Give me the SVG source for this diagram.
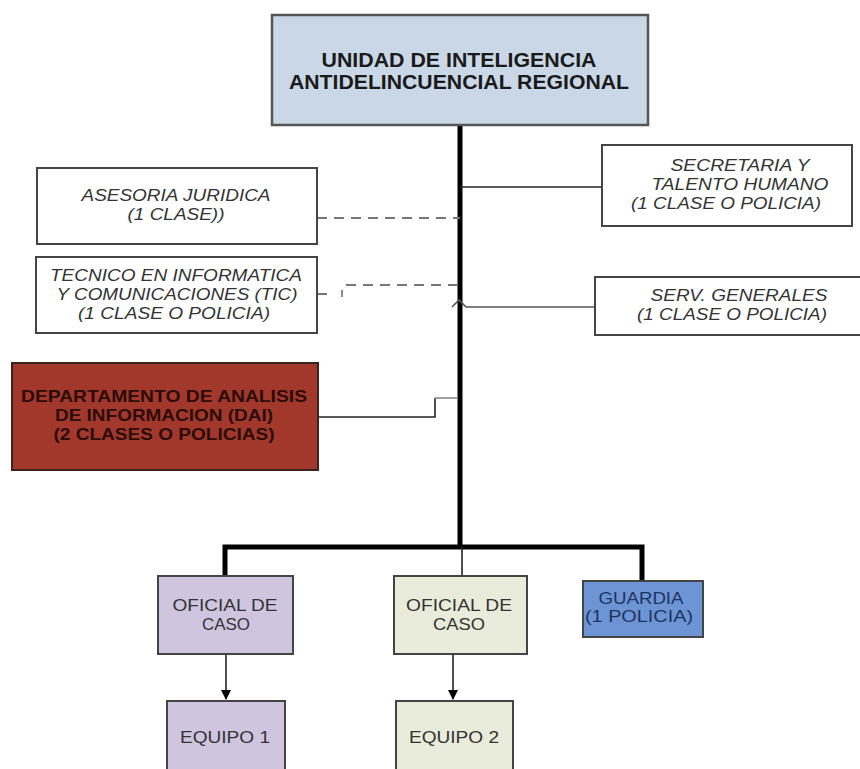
<svg xmlns="http://www.w3.org/2000/svg" width="860" height="769" viewBox="0 0 860 769">
  <defs>
    <style>
      .box { stroke: #444; stroke-width: 2; }
      .plain { fill: #ffffff; }
      .t { font-family: "Liberation Sans", Arial, sans-serif; text-anchor: middle; }
      .it { font-style: italic; font-size: 17px; fill: #333; }
      .bold { font-weight: bold; }
      .reg { font-size: 17px; fill: #333; }
      .thick { stroke: #000; stroke-width: 5; fill: none; }
      .thin { stroke: #222; stroke-width: 1.6; fill: none; }
      .dash { stroke: #777; stroke-width: 2; stroke-dasharray: 10 7; fill: none; }
    </style>
    <marker id="arrow" viewBox="0 0 10 10" refX="9" refY="5" markerWidth="10" markerHeight="10" markerUnits="userSpaceOnUse" orient="auto">
      <path d="M0,0 L10,5 L0,10 Z" fill="#000"/>
    </marker>
  </defs>

  <rect width="860" height="769" fill="#ffffff"/>

  <!-- connectors -->
  <g id="connectors">
    <!-- main trunk -->
    <path class="thick" d="M460,125 V547"/>
    <!-- bottom distribution bar -->
    <path class="thick" d="M225,576 V547 H642 V581" stroke-linejoin="miter"/>
    <path class="thin" d="M462,547 V576"/>
    <!-- staff links -->
    <path class="thin" d="M460,187 H602"/>
    <path class="dash" d="M317,218 H460"/>
    <path class="dash" d="M317,294 H330"/>
    <path d="M342,290 V297" stroke="#666" stroke-width="1.5"/>
    <path class="dash" d="M346,285 H458"/>
    <path d="M452,307 L459,300 L466,307 H595" stroke="#555" stroke-width="1.6" fill="none"/>
    <path class="thin" d="M318,417 H435 V398"/>
    <path d="M435,398 H458" stroke="#888" stroke-width="1.6" fill="none"/>
    <!-- team arrows -->
    <path class="thin" d="M226,654 V699" marker-end="url(#arrow)"/>
    <path class="thin" d="M453,654 V699" marker-end="url(#arrow)"/>
  </g>

  <g id="unidad">
    <rect x="272" y="15" width="376" height="110" fill="#c9d7e7" stroke="#555" stroke-width="2.5"/>
    <text class="t bold" font-size="20" fill="#1a1a1a" x="459" y="67" textLength="275" lengthAdjust="spacingAndGlyphs">UNIDAD DE INTELIGENCIA</text>
    <text class="t bold" font-size="20" fill="#1a1a1a" x="459" y="89" textLength="340" lengthAdjust="spacingAndGlyphs">ANTIDELINCUENCIAL REGIONAL</text>
  </g>

  <g id="secretaria">
    <rect class="box plain" x="602" y="145" width="250" height="81"/>
    <text class="t it" x="740" y="171" textLength="139" lengthAdjust="spacingAndGlyphs">SECRETARIA Y</text>
    <text class="t it" x="740" y="190" textLength="177" lengthAdjust="spacingAndGlyphs">TALENTO HUMANO</text>
    <text class="t it" x="726" y="209" textLength="190" lengthAdjust="spacingAndGlyphs">(1 CLASE O POLICIA)</text>
  </g>

  <g id="asesoria">
    <rect class="box plain" x="37" y="168" width="280" height="76"/>
    <text class="t it" x="176" y="201" textLength="189" lengthAdjust="spacingAndGlyphs">ASESORIA JURIDICA</text>
    <text class="t it" x="176" y="220" textLength="97" lengthAdjust="spacingAndGlyphs">(1 CLASE))</text>
  </g>

  <g id="tic">
    <rect class="box plain" x="36" y="257" width="281" height="76"/>
    <text class="t it" x="176" y="281" textLength="252" lengthAdjust="spacingAndGlyphs">TECNICO EN INFORMATICA</text>
    <text class="t it" x="177" y="300" textLength="241" lengthAdjust="spacingAndGlyphs">Y COMUNICACIONES (TIC)</text>
    <text class="t it" x="174" y="319" textLength="192" lengthAdjust="spacingAndGlyphs">(1 CLASE O POLICIA)</text>
  </g>

  <g id="servicios-generales">
    <rect class="box plain" x="595" y="277" width="275" height="58"/>
    <text class="t it" x="739" y="301" textLength="177" lengthAdjust="spacingAndGlyphs">SERV. GENERALES</text>
    <text class="t it" x="732" y="320" textLength="190" lengthAdjust="spacingAndGlyphs">(1 CLASE O POLICIA)</text>
  </g>

  <g id="dai">
    <rect x="12" y="363" width="306" height="107" fill="#a2382c" stroke="#3a2420" stroke-width="2"/>
    <text class="t bold" font-size="17" fill="#2b0c08" x="164" y="402" textLength="286" lengthAdjust="spacingAndGlyphs">DEPARTAMENTO DE ANALISIS</text>
    <text class="t bold" font-size="17" fill="#2b0c08" x="164" y="421" textLength="218" lengthAdjust="spacingAndGlyphs">DE INFORMACION (DAI)</text>
    <text class="t bold" font-size="17" fill="#2b0c08" x="164" y="440" textLength="221" lengthAdjust="spacingAndGlyphs">(2 CLASES O POLICIAS)</text>
  </g>

  <g id="oficial-1">
    <rect class="box" x="158" y="576" width="135" height="78" fill="#cfc5df"/>
    <text class="t reg" x="225" y="611" textLength="105" lengthAdjust="spacingAndGlyphs">OFICIAL DE</text>
    <text class="t reg" x="226" y="630" textLength="48" lengthAdjust="spacingAndGlyphs">CASO</text>
  </g>

  <g id="oficial-2">
    <rect class="box" x="394" y="576" width="133" height="78" fill="#e9ebdb"/>
    <text class="t reg" x="459" y="611" textLength="106" lengthAdjust="spacingAndGlyphs">OFICIAL DE</text>
    <text class="t reg" x="459" y="630" textLength="52" lengthAdjust="spacingAndGlyphs">CASO</text>
  </g>

  <g id="guardia">
    <rect class="box" x="583" y="581" width="120" height="56" fill="#6d94d5"/>
    <text class="t" font-size="16" fill="#1d3461" x="641" y="604" textLength="85" lengthAdjust="spacingAndGlyphs">GUARDIA</text>
    <text class="t" font-size="16" fill="#1d3461" x="639" y="622" textLength="108" lengthAdjust="spacingAndGlyphs">(1 POLICIA)</text>
  </g>

  <g id="equipo-1">
    <rect class="box" x="167" y="701" width="118" height="80" fill="#cfc5df"/>
    <text class="t reg" x="225" y="743" textLength="90" lengthAdjust="spacingAndGlyphs">EQUIPO 1</text>
  </g>

  <g id="equipo-2">
    <rect class="box" x="396" y="701" width="117" height="80" fill="#e9ebdb"/>
    <text class="t reg" x="454" y="743" textLength="90" lengthAdjust="spacingAndGlyphs">EQUIPO 2</text>
  </g>
</svg>
